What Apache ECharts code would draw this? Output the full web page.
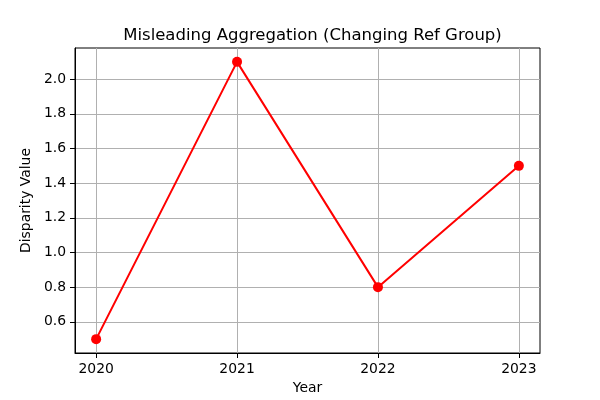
<!DOCTYPE html>
<html><head><meta charset="utf-8">
<script src="https://cdn.jsdelivr.net/npm/echarts@6/dist/echarts.min.js"></script>
<style>html,body{margin:0;padding:0;background:#fff}#c{width:600px;height:400px}</style>
</head><body><div id="c"></div>
<script>
const years = [2020, 2021, 2022, 2023];
const disparity = [0.5, 2.1, 0.8, 1.5];
const yTicks = [0.6, 0.8, 1.0, 1.2, 1.4, 1.6, 1.8, 2.0];
const xTicks = [2020, 2021, 2022, 2023];

const font = 'DejaVu Sans';
const chart = echarts.init(document.getElementById('c'), null, {renderer: 'canvas'});
chart.setOption({
  animation: false,
  backgroundColor: '#fff',
  title: {
    text: 'Misleading Aggregation (Changing Ref Group)',
    left: 307.5, top: 22, textAlign: 'center',
    textStyle: {fontFamily: font, fontSize: 16.5, fontWeight: 'normal', color: '#000'}
  },
  grid: {left: 75, right: 60, top: 48, bottom: 44, show: true, borderColor: '#000', borderWidth: 1},
  xAxis: {
    type: 'value', min: 2019.85, max: 2023.15,
    name: 'Year', nameLocation: 'middle', nameGap: 28,
    nameTextStyle: {fontFamily: font, fontSize: 13.9, color: '#000'},
    axisLine: {show: true, lineStyle: {color: '#000'}},
    axisTick: {show: true, length: 5, customValues: xTicks, lineStyle: {color: '#000'}},
    axisLabel: {customValues: xTicks, fontFamily: font, fontSize: 13.9, color: '#000', margin: 9, formatter: v => String(v)},
    splitLine: {show: true, customValues: xTicks, lineStyle: {color: '#b0b0b0', width: 1}}
  },
  yAxis: {
    type: 'value', min: 0.42, max: 2.18,
    name: 'Disparity Value', nameLocation: 'middle', nameGap: 37,
    nameTextStyle: {fontFamily: font, fontSize: 13.9, color: '#000'},
    axisLine: {show: true, lineStyle: {color: '#000'}},
    axisTick: {show: true, length: 5, customValues: yTicks, lineStyle: {color: '#000'}},
    axisLabel: {customValues: yTicks, fontFamily: font, fontSize: 13.9, color: '#000', margin: 9, formatter: v => v.toFixed(1)},
    splitLine: {show: true, customValues: yTicks, lineStyle: {color: '#b0b0b0', width: 1}}
  },
  series: [{
    type: 'line',
    data: years.map((y, i) => [y, disparity[i]]),
    lineStyle: {color: '#ff0000', width: 2},
    itemStyle: {color: '#ff0000'},
    symbol: 'circle', symbolSize: 10, showSymbol: true
  }]
});
</script></body></html>
